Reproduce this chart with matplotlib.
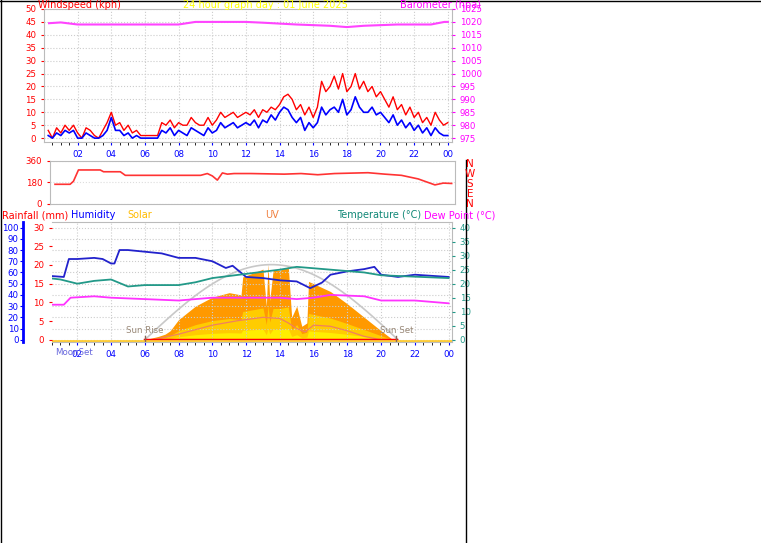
import numpy as np
import matplotlib.pyplot as plt

W, H = 761, 543

# wind, 15 minute steps from 00:15 (one row per hour)
wind_t = np.arange(0.25, 24.01, 0.25)
gust = [3, 0, 4, 2,  5, 3, 5, 2,  0, 4, 3, 1,  0, 3, 6, 10,
        5, 6, 3, 5,  2, 3, 1, 1,  1, 1, 1, 6,  5, 7, 4, 6,
        5, 5, 8, 6,  5, 5, 8, 5,  7, 10, 8, 9,  10, 8, 9, 10,
        9, 11, 8, 11,  10, 12, 11, 13,  16, 17, 15, 11,  13, 9, 12, 8,
        12, 22, 18, 20,  24, 19, 25, 18,  20, 25, 19, 22,  18, 20, 16, 18,
        15, 12, 16, 11,  13, 9, 12, 8,  10, 6, 8, 5,  10, 7, 5, 6]
avg = [1, 0, 2, 1,  3, 2, 3, 0,  0, 2, 1, 0,  0, 1, 3, 8,
       3, 3, 1, 2,  0, 1, 0, 0,  0, 0, 0, 3,  2, 4, 1, 3,
       2, 1, 4, 3,  2, 1, 4, 2,  3, 6, 4, 5,  6, 4, 5, 6,
       5, 7, 4, 7,  6, 9, 7, 10,  12, 11, 8, 6,  8, 3, 6, 4,
       6, 12, 9, 11,  12, 10, 15, 9,  11, 16, 12, 10,  10, 12, 9, 10,
       8, 6, 9, 5,  7, 4, 6, 3,  5, 2, 4, 1,  4, 2, 1, 1]
baro_t = [0.3, 1, 2, 4, 8, 9, 12, 13, 15, 17, 18, 19, 21, 23, 23.8, 24]
baro = [1019.5, 1019.8, 1019, 1019, 1019, 1020, 1020, 1019.7, 1019, 1018.5, 1018, 1018.5, 1019, 1019, 1020, 1020]

dir_t = [0.3, 1.2, 1.4, 1.7, 3, 3.2, 4.2, 4.5, 9, 9.4, 9.7, 10, 10.3, 10.6, 11, 12, 14, 15, 16, 17, 19, 20, 21, 22, 23, 23.5, 24]
wdir = [165, 165, 190, 285, 285, 270, 270, 240, 240, 255, 235, 200, 260, 250, 255, 255, 250, 255, 245, 255, 262, 250, 240, 210, 160, 175, 172]

# humidity / temperature / dew point
th = [0.3, 1.2, 1.5, 2, 3, 3.5, 4, 4.2, 4.5, 5, 7, 8, 9, 10, 10.8, 11.2, 12, 13, 14, 15, 15.8, 16.5, 17, 18, 19, 19.6, 20, 21, 22, 23, 24]
hum = [57, 56, 72, 72, 73, 72, 68, 68, 80, 80, 77, 73, 73, 70, 64, 66, 56, 55, 53, 52, 46, 51, 58, 61, 63, 65, 58, 56, 58, 57, 56]
tt = [0.3, 1, 2, 3, 4, 5, 6, 8, 9, 10, 12, 14, 15, 16, 17, 19, 20, 22, 24]
temp = [22, 21.5, 20, 21, 21.5, 19, 19.5, 19.5, 20.5, 22, 23.5, 25, 26, 25.5, 25, 24, 23, 22.5, 22]
td = [0.3, 1.2, 1.6, 3, 4, 6, 8, 10, 12, 14, 15, 16, 17, 19, 20, 22, 23, 24]
dew = [12.5, 12.5, 15, 15.5, 15, 14.5, 14, 15, 15, 15, 14.5, 15, 16, 15.5, 14, 14, 13.5, 13]

# solar (as % of humidity scale) and UV
ts = [6, 6.8, 7.2, 7.5, 8, 9, 10, 11, 11.7, 11.8, 12.5, 13, 13.2, 13.3, 13.4, 13.6, 14, 14.5, 14.7, 15, 15.3, 15.6, 15.7, 16, 17, 18, 19, 20, 20.7]
solar = [0, 3, 5, 8, 18, 30, 38, 42, 40, 56, 60, 63, 30, 68, 35, 62, 62, 65, 20, 30, 12, 15, 52, 50, 43, 32, 20, 8, 0]
tu = [6.5, 8, 10, 11.5, 12, 13, 14, 14.5, 15, 15.5, 16, 17, 18, 19, 20]
uv = [0, 5, 13, 17, 18, 20, 19, 15, 10, 7, 13, 12, 8, 3, 0]

hour_labels = ['02', '04', '06', '08', '10', '12', '14', '16', '18', '20', '22', '00']

fig = plt.figure(figsize=(W / 100, H / 100), dpi=100)
fs = 6.2


def ax_px(x0, y0, x1, y1):
    return fig.add_axes([x0 / W, 1 - y1 / H, (x1 - x0) / W, (y1 - y0) / H])


def grid_style(ax):
    ax.grid(True, color='#cccccc', linestyle=':', linewidth=0.8)
    for s in ax.spines.values():
        s.set_color('#bbbbbb')
    ax.set_xticks(range(2, 25, 2))
    ax.set_xticks(np.arange(0.5, 24.5, 0.5), minor=True)


# frame lines
fig.add_artist(plt.Line2D([1.5 / W, 1.5 / W], [0, 1], color='black', lw=1))
fig.add_artist(plt.Line2D([0, 1], [1 - 0.5 / H, 1 - 0.5 / H], color='black', lw=1))
fig.add_artist(plt.Line2D([465.5 / W, 465.5 / W], [0, 1 - 160 / H], color='black', lw=1))

# panel 1: wind + barometer
ax1 = ax_px(44, 9, 452, 142)
ax1.set_xlim(0, 24.25)
ax1.set_ylim(-1.5, 50)
ax1.plot(wind_t, gust, color='red', lw=1)
ax1.plot(wind_t, avg, color='blue', lw=1.2)
ax1.set_yticks(range(0, 51, 5))
ax1.set_xticklabels(hour_labels)
grid_style(ax1)
ax1.tick_params(axis='y', colors='red', labelsize=fs, length=2)
ax1.tick_params(axis='x', colors='blue', labelsize=fs, length=2)
axb = ax1.twinx()
axb.set_ylim(975 - 1.5, 1025)
axb.plot(baro_t, baro, color='#ff44ff', lw=1.5)
axb.set_yticks(range(975, 1026, 5))
axb.tick_params(axis='y', colors='#ff00ff', labelsize=fs, length=2)
for s in axb.spines.values():
    s.set_visible(False)
fig.text(38 / W, 1 - 5 / H, 'Windspeed (kph)', color='red', fontsize=7, va='center')
fig.text(265 / W, 1 - 5 / H, '24 hour graph day : 01 June 2025', color='yellow', fontsize=7, va='center', ha='center')
fig.text(400 / W, 1 - 5 / H, 'Barometer (hpa)', color='#ff00ff', fontsize=7, va='center')

# panel 2: wind direction
ax2 = ax_px(50, 161, 455, 204)
ax2.set_xlim(0, 24.2)
ax2.set_ylim(0, 360)
ax2.plot(dir_t, wdir, color='#ff3333', lw=1.2)
ax2.set_yticks([0, 180, 360])
ax2.set_xticks([])
ax2.grid(True, axis='y', color='#dddddd', linestyle=':')
for s in ax2.spines.values():
    s.set_color('#bbbbbb')
ax2.tick_params(axis='y', colors='red', labelsize=fs, length=2)
for i, c in enumerate('NWSEN'):
    fig.text(470 / W, 1 - (164 + i * 10) / H, c, color='red', fontsize=7.5, ha='center', va='center')

# panel 3: humidity, temperature, solar
ax3 = ax_px(52, 222, 452, 342)
ax3.set_xlim(0.5, 24.2)
ax3.set_ylim(-2, 105)
ax3.fill_between(ts, solar, color='#ff9900', lw=0)
ax3.fill_between(ts, np.array(solar) * 0.45, color='#ffcc00', lw=0)
ax3.fill_between(ts, np.array(solar) * 0.15, color='#ffee00', lw=0)
sun_t = np.linspace(6, 21, 60)
ax3.plot(sun_t, 67 * np.sin(np.pi * (sun_t - 6) / 15), color='#c8c8c8', lw=1.2)
ax3.plot(tu, uv, color='#f08060', lw=0.9)
ax3.plot([6, 20.9], [0, 0], color='red', lw=2.5)
ax3.plot([0.5, 24.2], [-1, -1], color='#ffcc33', lw=2)
ax3.plot(th, hum, color='#2222cc', lw=1.3)
ax3.set_yticks(range(0, 101, 10))
ax3.set_xticklabels(hour_labels)
grid_style(ax3)
ax3.tick_params(axis='y', colors='blue', labelsize=fs, length=2, pad=1)
ax3.tick_params(axis='x', colors='blue', labelsize=fs, length=2)
ax3.spines['left'].set_color('blue')
ax3.spines['left'].set_position(('outward', 21))
ax3.spines['left'].set_linewidth(2)
axr = ax3.twinx()
axr.set_ylim(-0.6, 31.5)
axr.set_yticks(range(0, 31, 5))
axr.yaxis.set_ticks_position('left')
axr.tick_params(axis='y', colors='red', labelsize=fs, length=2, labelleft=True, labelright=False)
for s in axr.spines.values():
    s.set_visible(False)
axt = ax3.twinx()
axt.set_ylim(-0.8, 42)
axt.plot(tt, temp, color='#229988', lw=1.3)
axt.plot(td, dew, color='#ff33ff', lw=1.3)
axt.set_yticks(range(0, 41, 5))
axt.tick_params(axis='y', colors='#229988', labelsize=fs, length=2)
for s in axt.spines.values():
    s.set_visible(False)
for x, lab in [(6, 'Sun Rise'), (20.9, 'Sun Set')]:
    ax3.plot([x, x], [-1, 3], color='#886655', lw=1)
    ax3.text(x, 4, lab, color='#998877', fontsize=fs, ha='center', va='bottom')
ax3.text(1.8, -11, 'MoonSet', color='#6666dd', fontsize=fs, ha='center', va='center')
row = 1 - 215 / H
fig.text(2 / W, row, 'Rainfall (mm)', color='red', fontsize=7, va='center')
fig.text(71 / W, row, 'Humidity', color='blue', fontsize=7, va='center')
fig.text(127 / W, row, 'Solar', color='#ffbb00', fontsize=7, va='center')
fig.text(265 / W, row, 'UV', color='#f08040', fontsize=7, va='center')
fig.text(337 / W, row, 'Temperature (°C)', color='#118877', fontsize=7, va='center')
fig.text(424 / W, row, 'Dew Point (°C)', color='#ff00ff', fontsize=7, va='center')

fig.savefig('out.png', dpi=100)
